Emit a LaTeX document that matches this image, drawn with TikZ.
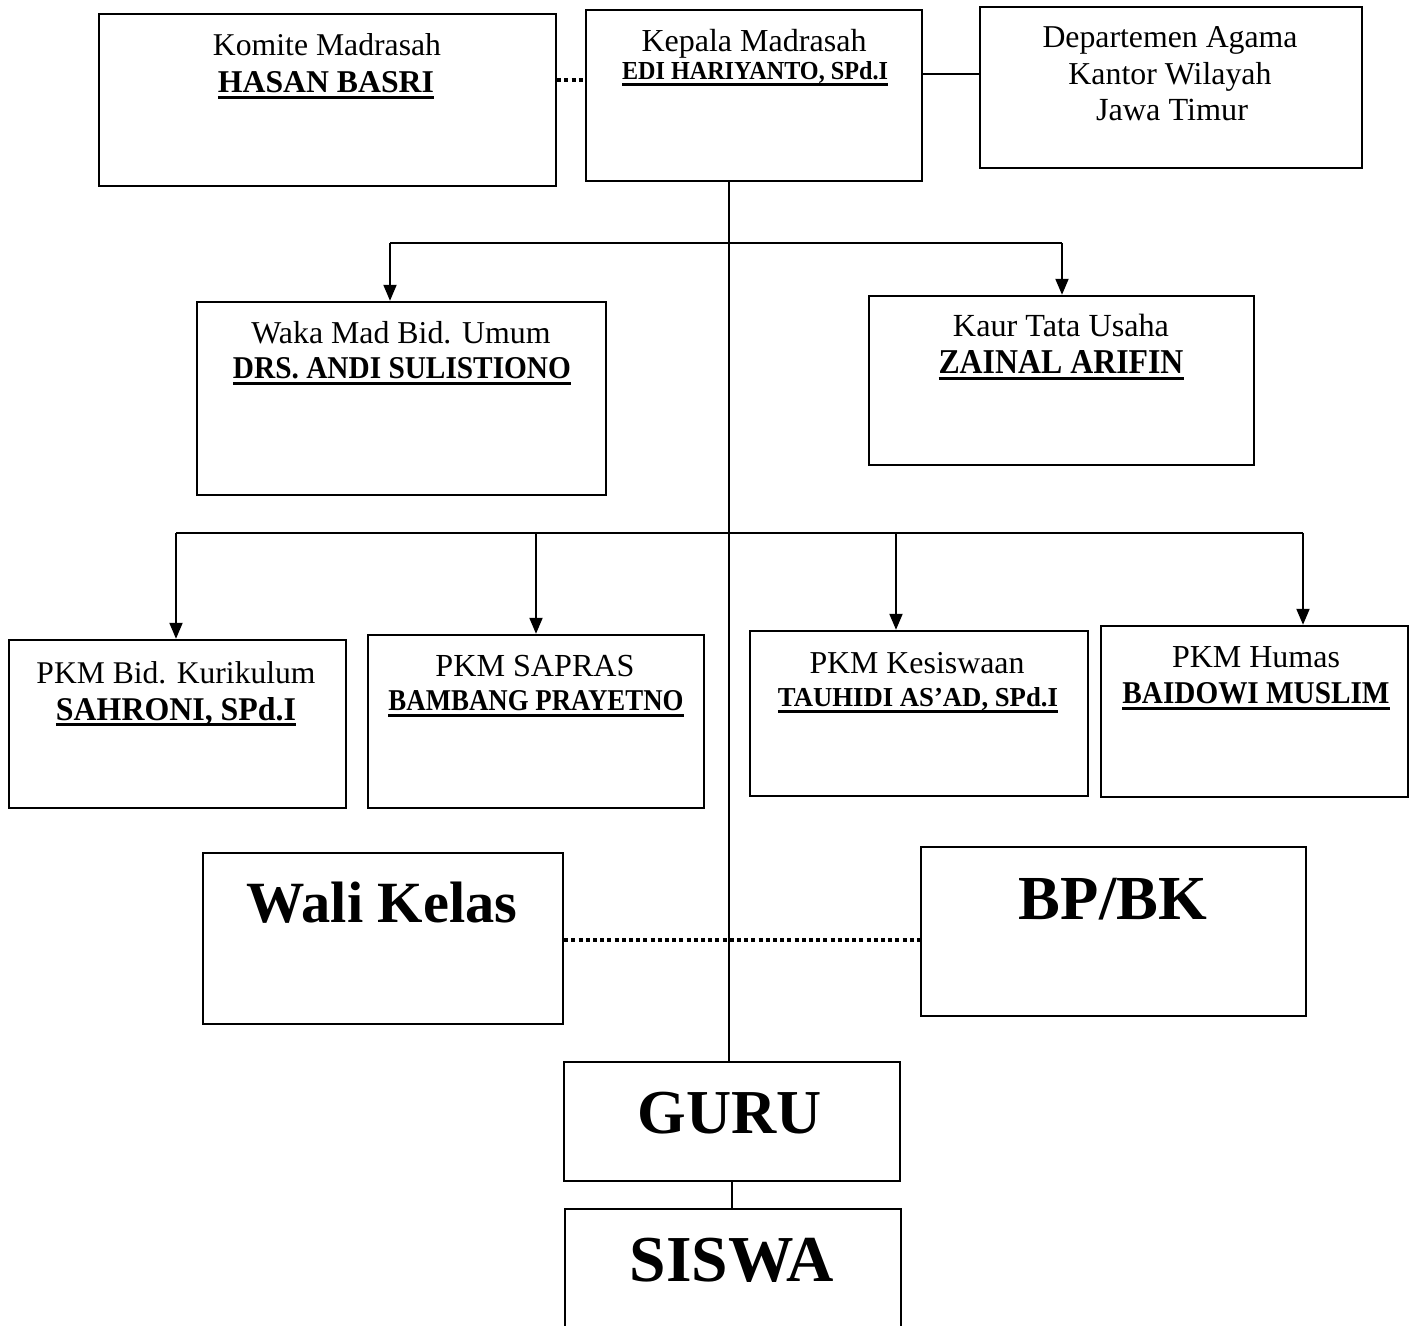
\documentclass[tikz,border=0pt]{standalone}
\usepackage{fontspec}
\setmainfont{Liberation Serif}
\usepackage{graphicx}
\usetikzlibrary{arrows.meta,fit}
\newcommand\fitw[2]{\resizebox{\dimexpr #1pt/2\relax}{!}{#2}}
% name: width px, cap height px, text; thick underline below baseline
\newcommand\nm[3]{\vtop{\hbox{\raisebox{0pt}[\height][0pt]{\resizebox{\dimexpr #1pt/2\relax}{\dimexpr #2pt/2\relax}{\textbf{#3}}}}\kern1.6pt\hrule height 1.4pt}}
\begin{document}
\begin{tikzpicture}[x=0.5pt,y=-0.5pt,
  box/.style={draw, line width=1.2pt, inner sep=0pt},
  txt/.style={anchor=base, inner sep=0pt},
  conn/.style={line width=1pt},
  arr/.style={line width=1pt, -{Triangle[length=8pt,width=6.5pt]}},
  dotline/.style={line width=2.2pt, dash pattern=on 2pt off 1.6pt}]
\clip (0,0) rectangle (1410,1326);
\fill[white] (0,0) rectangle (1410,1326);

% boxes
\node[box, fit={(99,14) (556,186)}] (komite) {};
\node[box, fit={(586,10) (922,181)}] (kepala) {};
\node[box, fit={(980,7) (1362,168)}] (dept) {};
\node[box, fit={(197,302) (606,495)}] (waka) {};
\node[box, fit={(869,296) (1254,465)}] (kaur) {};
\node[box, fit={(9,640) (346,808)}] (kurik) {};
\node[box, fit={(368,635) (704,808)}] (sapras) {};
\node[box, fit={(750,631) (1088,796)}] (kesis) {};
\node[box, fit={(1101,626) (1408,797)}] (humas) {};
\node[box, fit={(203,853) (563,1024)}] (wali) {};
\node[box, fit={(921,847) (1306,1016)}] (bpbk) {};
\node[box, fit={(564,1062) (900,1181)}] (guru) {};
\node[box, fit={(565,1209) (901,1345)}] (siswa) {};

% texts
\node[txt] (t1a) at (327,56) {\fitw{228}{Komite Madrasah}};
\node[txt] (t1b) at (326,93) {\nm{216}{21}{HASAN BASRI}};
\node[txt] (t2a) at (754,52) {\fitw{225}{Kepala Madrasah}};
\node[txt] (t2b) at (755,80) {\nm{266}{18}{EDI HARIYANTO, SPd.I}};
\node[txt] (t3a) at (1170,48) {\fitw{255}{Departemen Agama}};
\node[txt] (t3b) at (1170,85) {\fitw{203}{Kantor Wilayah}};
\node[txt] (t3c) at (1172,121) {\fitw{152}{Jawa Timur}};
\node[txt] (t4a) at (401,344) {\fitw{299}{Waka Mad Bid. Umum}};
\node[txt] (t4b) at (402,379) {\nm{338}{21}{DRS. ANDI SULISTIONO}};
\node[txt] (t5a) at (1061,337) {\fitw{216}{Kaur Tata Usaha}};
\node[txt] (t5b) at (1061,374) {\nm{245}{23}{ZAINAL ARIFIN}};
\node[txt] (t6a) at (176,683) {\fitw{279}{PKM Bid. Kurikulum}};
\node[txt] (t6b) at (176,720) {\nm{240}{23}{SAHRONI, SPd.I}};
\node[txt] (t7a) at (535,677) {\fitw{199}{PKM SAPRAS}};
\node[txt] (t7b) at (536,711) {\nm{295}{20}{BAMBANG PRAYETNO}};
\node[txt] (t8a) at (917,674) {\fitw{215}{PKM Kesiswaan}};
\node[txt] (t8b) at (918,707) {\nm{280}{19}{TAUHIDI AS’AD, SPd.I}};
\node[txt] (t9a) at (1256,668) {\fitw{168}{PKM Humas}};
\node[txt] (t9b) at (1256,704) {\nm{267}{21}{BAIDOWI MUSLIM}};
\node[txt] (t10) at (382,922) {\fitw{271}{\textbf{Wali Kelas}}};
\node[txt] (t11) at (1113,919) {\fitw{188}{\textbf{BP/BK}}};
\node[txt] (t12) at (730,1133) {\fitw{184}{\textbf{GURU}}};
\node[txt] (t13) at (732,1281) {\fitw{204}{\textbf{SISWA}}};

% connectors
\draw[dotline] ([yshift=10pt]komite.east) -- ([yshift=10pt]komite.east -| kepala.west);
\draw[conn] ([yshift=10.75pt]kepala.east) -- ([yshift=10.75pt]kepala.east -| dept.west);

\coordinate (sp) at (729,181);
\draw[conn] (sp) -- (sp |- guru.north);

\coordinate (a1) at (390,243);
\coordinate (a2) at (1062,243);
\draw[conn] (a1) -- (a2);
\draw[arr] (a1) -- (a1 |- waka.north);
\draw[arr] (a2) -- (a2 |- kaur.north);

\coordinate (b1) at (176,533);
\coordinate (b2) at (536,533);
\coordinate (b3) at (896,533);
\coordinate (b4) at (1303,533);
\draw[conn] (b1) -- (b4);
\draw[arr] (b1) -- (b1 |- kurik.north);
\draw[arr] (b2) -- (b2 |- sapras.north);
\draw[arr] (b3) -- (b3 |- kesis.north);
\draw[arr] (b4) -- (b4 |- humas.north);

\draw[dotline] ([yshift=-0.75pt]wali.east) -- ([yshift=-0.75pt]wali.east -| bpbk.west);
\draw[conn] (guru.south) -- (guru.south |- siswa.north);
\end{tikzpicture}
\end{document}
